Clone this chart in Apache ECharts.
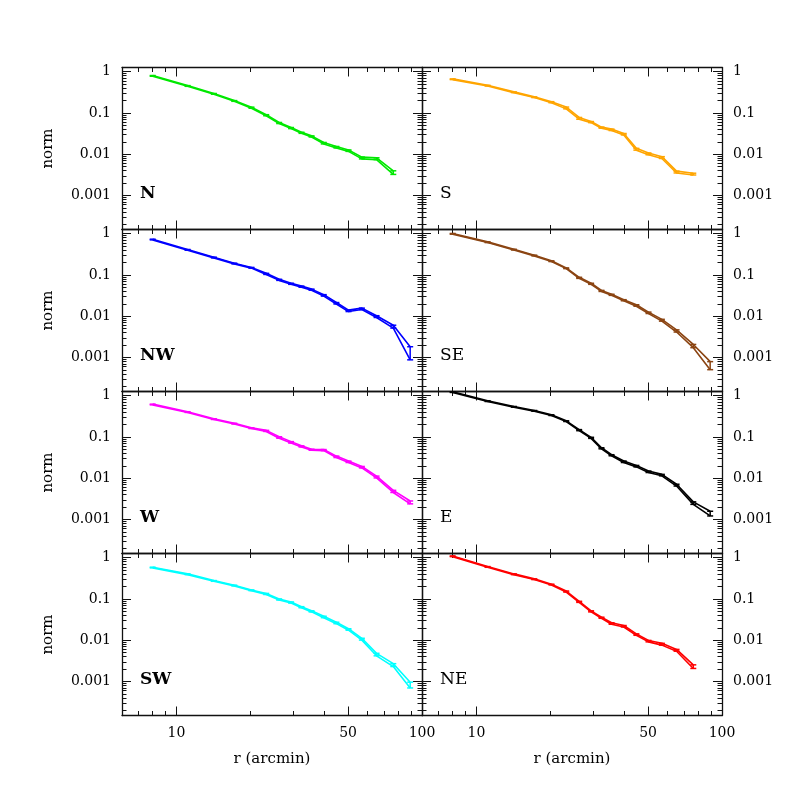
<!DOCTYPE html>
<html>
<head>
<meta charset="utf-8">
<script src="https://cdn.jsdelivr.net/npm/echarts@6/dist/echarts.min.js"></script>
<style>
html,body{margin:0;padding:0;background:#fff}
#chart{width:789px;height:789px}
</style>
</head>
<body>
<div id="chart"></div>
<script>
// radial bins (arcmin), shared by all sectors
var rBins = [8, 11.1, 14.2, 17.2, 20.2, 23.2, 26.2, 29.3, 32.3, 35.5, 39.8, 44.8, 50.2, 56.9, 65.3, 76.4, 89.5];

var panelNames = ['N', 'S', 'NW', 'SE', 'W', 'E', 'SW', 'NE'];
var panelColors = ['#00e800', '#ffa500', '#0000ff', '#8b4513', '#ff00ff', '#000000', '#00ffff', '#ff0000'];

// normalised profiles and relative errors
var normN  = [0.79, 0.45, 0.29, 0.195, 0.134, 0.088, 0.057, 0.043, 0.033, 0.027, 0.0185, 0.0148, 0.0122, 0.0081, 0.0078, 0.0036];
var errN   = [0.02, 0.02, 0.02, 0.02, 0.03, 0.03, 0.03, 0.03, 0.03, 0.03, 0.04, 0.04, 0.04, 0.05, 0.05, 0.1];
var normS  = [0.655, 0.458, 0.317, 0.24, 0.182, 0.132, 0.074, 0.06, 0.044, 0.039, 0.0305, 0.0132, 0.0102, 0.0083, 0.0037, 0.0033];
var errS   = [0.02, 0.02, 0.02, 0.02, 0.03, 0.05, 0.05, 0.03, 0.03, 0.04, 0.04, 0.05, 0.05, 0.05, 0.05, 0.05];
var normNW = [0.72, 0.405, 0.264, 0.189, 0.149, 0.106, 0.076, 0.061, 0.052, 0.044, 0.032, 0.0206, 0.0135, 0.0151, 0.0098, 0.0056, 0.00135];
var errNW  = [0.02, 0.02, 0.02, 0.02, 0.02, 0.03, 0.03, 0.03, 0.03, 0.03, 0.04, 0.04, 0.04, 0.04, 0.05, 0.08, 0.35];
var normSE = [0.99, 0.62, 0.41, 0.295, 0.215, 0.145, 0.085, 0.061, 0.041, 0.033, 0.0244, 0.0182, 0.0121, 0.008, 0.0044, 0.0019, 0.00065];
var errSE  = [0.02, 0.02, 0.02, 0.02, 0.02, 0.02, 0.03, 0.03, 0.03, 0.03, 0.03, 0.04, 0.04, 0.05, 0.06, 0.09, 0.22];
var normW  = [0.61, 0.40, 0.27, 0.21, 0.163, 0.14, 0.097, 0.074, 0.059, 0.049, 0.048, 0.033, 0.025, 0.0185, 0.0107, 0.0048, 0.0026];
var errW   = [0.02, 0.02, 0.02, 0.02, 0.02, 0.03, 0.04, 0.04, 0.03, 0.03, 0.03, 0.04, 0.04, 0.04, 0.05, 0.06, 0.08];
var normE  = [1.22, 0.736, 0.536, 0.428, 0.337, 0.241, 0.146, 0.095, 0.053, 0.036, 0.025, 0.0196, 0.0143, 0.0119, 0.0068, 0.0025, 0.0014];
var errE   = [0.02, 0.02, 0.02, 0.02, 0.02, 0.02, 0.03, 0.03, 0.03, 0.03, 0.04, 0.04, 0.04, 0.04, 0.05, 0.07, 0.13];
var normSW = [0.576, 0.396, 0.273, 0.211, 0.162, 0.132, 0.097, 0.082, 0.063, 0.050, 0.0366, 0.0262, 0.0182, 0.0106, 0.0045, 0.0025, 0.00083];
var errSW  = [0.02, 0.02, 0.02, 0.02, 0.02, 0.03, 0.03, 0.03, 0.03, 0.03, 0.04, 0.04, 0.04, 0.05, 0.07, 0.08, 0.16];
var normNE = [1.08, 0.596, 0.396, 0.30, 0.223, 0.151, 0.085, 0.050, 0.035, 0.0254, 0.0218, 0.0137, 0.0095, 0.008, 0.0057, 0.0023];
var errNE  = [0.02, 0.02, 0.02, 0.02, 0.02, 0.03, 0.03, 0.03, 0.03, 0.04, 0.04, 0.04, 0.04, 0.05, 0.05, 0.1];

var panelNorm = [normN, normS, normNW, normSE, normW, normE, normSW, normNE];
var panelErr  = [errN, errS, errNW, errSE, errW, errE, errSW, errNE];

// ticks
var xMajorTicks = [10, 50, 100];
var xTickLabels = ['10', '50', '100'];
var xMinorTicks = [7, 8, 9, 20, 30, 40, 60, 70, 80, 90];
var yMajorTicks = [0.001, 0.01, 0.1, 1];
var yTickLabels = ['0.001', '0.01', '0.1', '1'];
var yMantissa = [2, 3, 4, 5, 6, 7, 8, 9];
var yDecades = [0.0001, 0.001, 0.01, 0.1];

var xMin = 6, xMax = 100;
var yMin = 0.00015, yMax = 1.26;

var yMinorTicks = [];
yDecades.forEach(function (d) {
	yMantissa.forEach(function (m) { yMinorTicks.push(+(m * d).toPrecision(3)); });
});

// layout
var colLeft = [122, 422];
var colWidth = 300;
var rowTop0 = 67.5;
var rowH = 162;
var fontFam = '"DejaVu Serif", serif';
var axisColor = '#111';

function labelFrom(ticks, labels) {
	return function (v) {
		for (var i = 0; i < ticks.length; i++) {
			if (Math.abs(v - ticks[i]) / ticks[i] < 1e-6) return labels[i];
		}
		return '';
	};
}

var grids = [], xAxes = [], yAxes = [], series = [], graphics = [];

panelNames.forEach(function (name, i) {
	var col = i % 2, row = Math.floor(i / 2);
	var top = rowTop0 + row * rowH;
	grids.push({ left: colLeft[col], top: top, width: colWidth, height: rowH, show: false });

	var isBottom = row === 3;
	// x axes: bottom major, bottom minor, top major, top minor
	[['bottom', xMajorTicks, 9, true], ['bottom', xMinorTicks, 4.5, false],
	 ['top', xMajorTicks, 9, false], ['top', xMinorTicks, 4.5, false]].forEach(function (a) {
		var main = a[0] === 'bottom' && a[3];
		var isMinor = a[1] === xMinorTicks;
		var ax = {
			type: 'log', logBase: 10, gridIndex: i, position: a[0], min: xMin, max: xMax,
			axisLine: { show: !isMinor, onZero: false, lineStyle: { color: axisColor, width: 1.3 } },
			axisTick: { show: true, inside: true, length: a[2], customValues: a[1], lineStyle: { color: axisColor, width: 1 } },
			axisLabel: { show: main && isBottom, customValues: xMajorTicks, formatter: labelFrom(xMajorTicks, xTickLabels),
				color: '#000', fontFamily: fontFam, fontSize: 14, margin: 11 },
			splitLine: { show: false }, axisPointer: { show: false }
		};
		if (main && isBottom) {
			ax.name = 'r (arcmin)';
			ax.nameLocation = 'middle';
			ax.nameGap = 36;
			ax.nameTextStyle = { color: '#000', fontFamily: fontFam, fontSize: 15 };
		}
		xAxes.push(ax);
	});

	// y axes: left major, left minor, right major, right minor
	var labelSide = col === 0 ? 'left' : 'right';
	[['left', yMajorTicks, 9], ['left', yMinorTicks, 4.5],
	 ['right', yMajorTicks, 9], ['right', yMinorTicks, 4.5]].forEach(function (a) {
		var isMinor = a[1] === yMinorTicks;
		var labelled = a[0] === labelSide && !isMinor;
		var ax = {
			type: 'log', logBase: 10, gridIndex: i, position: a[0], min: yMin, max: yMax,
			axisLine: { show: !isMinor, onZero: false, lineStyle: { color: axisColor, width: 1.3 } },
			axisTick: { show: true, inside: true, length: a[2], customValues: a[1], lineStyle: { color: axisColor, width: 1 } },
			axisLabel: { show: labelled, customValues: yMajorTicks, formatter: labelFrom(yMajorTicks, yTickLabels),
				color: '#000', fontFamily: fontFam, fontSize: 14, margin: 11 },
			splitLine: { show: false }, axisPointer: { show: false }
		};
		if (labelled && col === 0) {
			ax.name = 'norm';
			ax.nameLocation = 'middle';
			ax.nameGap = 66;
			ax.nameRotate = 90;
			ax.nameTextStyle = { color: '#000', fontFamily: fontFam, fontSize: 15 };
		}
		yAxes.push(ax);
	});

	var vals = panelNorm[i], errs = panelErr[i], color = panelColors[i];
	var upper = [], lower = [], bars = [];
	vals.forEach(function (v, k) {
		upper.push([rBins[k], v * (1 + errs[k])]);
		lower.push([rBins[k], v * (1 - errs[k])]);
		bars.push([rBins[k], v, v * (1 - errs[k]), v * (1 + errs[k])]);
	});
	var xi = i * 4, yi = i * 4;
	[upper, lower].forEach(function (d) {
		series.push({
			type: 'line', xAxisIndex: xi, yAxisIndex: yi, data: d, symbol: 'none',
			lineStyle: { color: color, width: 1.6 }, silent: true, animation: false
		});
	});
	series.push({
		type: 'custom', xAxisIndex: xi, yAxisIndex: yi, data: bars, silent: true, animation: false,
		encode: { x: 0, y: [1, 2, 3] },
		renderItem: function (params, api) {
			var x = api.value(0);
			var pLo = api.coord([x, api.value(2)]);
			var pHi = api.coord([x, api.value(3)]);
			var w = 3;
			var st = { stroke: color, lineWidth: 1.5 };
			return {
				type: 'group', children: [
					{ type: 'line', shape: { x1: pLo[0], y1: pLo[1], x2: pHi[0], y2: pHi[1] }, style: st },
					{ type: 'line', shape: { x1: pLo[0] - w, y1: pLo[1], x2: pLo[0] + w, y2: pLo[1] }, style: st },
					{ type: 'line', shape: { x1: pHi[0] - w, y1: pHi[1], x2: pHi[0] + w, y2: pHi[1] }, style: st }
				]
			};
		}
	});

	graphics.push({
		type: 'text', left: colLeft[col] + 18, top: top + 118, silent: true,
		style: { text: name, fill: '#000', font: (col === 0 ? 'bold ' : '') + '17px ' + fontFam }
	});
});

var myChart = echarts.init(document.getElementById('chart'), null, { renderer: 'canvas' });
myChart.setOption({
	backgroundColor: '#fff',
	animation: false,
	grid: grids,
	xAxis: xAxes,
	yAxis: yAxes,
	series: series,
	graphic: graphics
});
</script>
</body>
</html>
